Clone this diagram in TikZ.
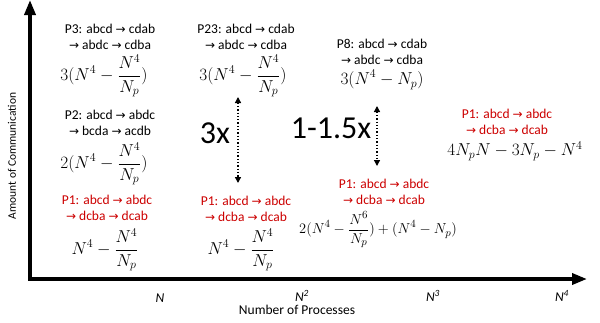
\documentclass[tikz,border=0pt]{standalone}
\usepackage{fontspec}
\setsansfont{Carlito}
\newfontfamily\arrowfont{DejaVu Sans}
\usetikzlibrary{arrows.meta}
\definecolor{pred}{RGB}{204,0,0}
\newcommand{\ra}{{\arrowfont\fontsize{12}{14}\selectfont →}}

\begin{document}
\begin{tikzpicture}[x=1pt,y=-1pt,
    lbl/.style={font=\sffamily\fontsize{13.5}{16}\selectfont, align=center, inner sep=0pt},
    redlbl/.style={lbl, text=pred},
    frm/.style={font=\fontsize{18}{20}\selectfont, inner sep=0pt},
    factor/.style={font=\sffamily\fontsize{32}{34}\selectfont, inner sep=0pt},
    tick/.style={font=\sffamily\itshape\fontsize{13.5}{16}\selectfont, inner sep=0pt},
    axis/.style={line width=3.5pt, {Triangle[length=15pt,width=11pt]}-{Triangle[length=15pt,width=11pt]}},
    ratio/.style={dotted, line width=1.3pt, {Triangle[length=6pt,width=6pt]}-{Triangle[length=6pt,width=6pt]}}]
    \useasboundingbox (0,0) rectangle (600,322);
    % axes
    \coordinate (ytop) at (30,0);
    \coordinate (O) at (30,279);
    \coordinate (xend) at (587,279);
    \draw[axis] (ytop) -- (O) -- (xend);
    \node[lbl, font=\sffamily\fontsize{11.5}{14}\selectfont, rotate=90] (ylab) at (12,156) {Amount of Communication};
    \node[lbl] (xlab) at (297,310) {Number of Processes};
    \node[tick] (t1) at (160,298) {N};
    \node[tick] (t2) at (302,296) {N\textsuperscript{2}};
    \node[tick] (t3) at (433,296) {N\textsuperscript{3}};
    \node[tick] (t4) at (562,296) {N\textsuperscript{4}};
    % N processes
    \node[lbl] (p3) at (110,37) {P3: abcd \ra{} cdab\\\ra{} abdc \ra{} cdba};
    \node[frm] (f3) at (104,76) {$\displaystyle 3(N^4-\frac{N^4}{N_p})$};
    \node[lbl] (p2) at (110,123) {P2: abcd \ra{} abdc\\\ra{} bcda \ra{} acdb};
    \node[frm] (f2) at (104,164) {$\displaystyle 2(N^4-\frac{N^4}{N_p})$};
    \node[redlbl] (p1a) at (107,208) {P1: abcd \ra{} abdc\\\ra{} dcba \ra{} dcab};
    \node[frm] (f1a) at (105,250) {$\displaystyle N^4-\frac{N^4}{N_p}$};
    % N^2 processes
    \node[lbl] (p23) at (246,37) {P23: abcd \ra{} cdab\\\ra{} abdc \ra{} cdba};
    \node[frm] (f23) at (243,76) {$\displaystyle 3(N^4-\frac{N^4}{N_p})$};
    \node[redlbl] (p1b) at (246,209) {P1: abcd \ra{} abdc\\\ra{} dcba \ra{} dcab};
    \node[frm] (f1b) at (241,250) {$\displaystyle N^4-\frac{N^4}{N_p}$};
    \coordinate (a1) at (238,97);
    \coordinate (b1) at (238,183);
    \draw[ratio] (a1) -- (b1);
    \node[factor] (x3) at (215,133) {3x};
    % N^3 processes
    \node[lbl] (p8) at (382,52) {P8: abcd \ra{} cdab\\\ra{} abdc \ra{} cdba};
    \node[frm] (f8) at (382,80) {$\displaystyle 3(N^4-N_p)$};
    \coordinate (a2) at (377,106);
    \coordinate (b2) at (377,166);
    \draw[ratio] (a2) -- (b2);
    \node[factor] (x15) at (331,128) {1-1.5x};
    \node[redlbl] (p1c) at (384,192) {P1: abcd \ra{} abdc\\\ra{} dcba \ra{} dcab};
    \node[frm, font=\fontsize{15}{17}\selectfont] (f1c) at (378,230) {$\displaystyle 2(N^4-\frac{N^6}{N_p})+(N^4-N_p)$};
    % N^4 processes
    \node[redlbl] (p1d) at (507,122) {P1: abcd \ra{} abdc\\\ra{} dcba \ra{} dcab};
    \node[frm] (f1d) at (515,151) {$4N_pN-3N_p-N^4$};
\end{tikzpicture}
\end{document}
